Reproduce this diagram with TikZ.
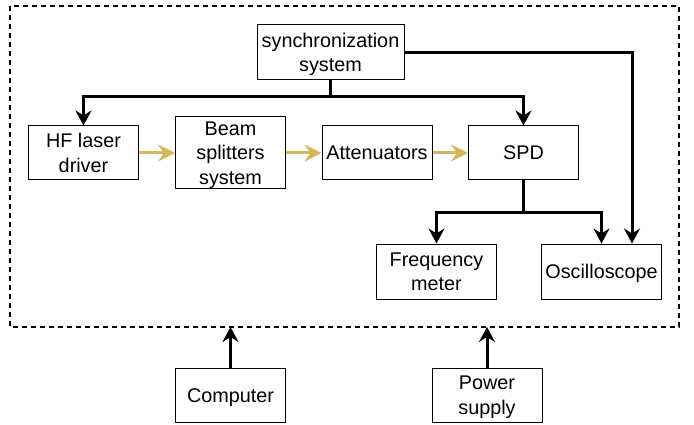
\documentclass[tikz,border=0pt]{standalone}
\usepackage{fontspec}
\setmainfont{Liberation Sans}
\usetikzlibrary{arrows.meta,calc,positioning}
\definecolor{beamgold}{HTML}{D6B656}

\begin{document}
\begin{tikzpicture}[x=1pt,y=-1pt,
every node/.style={draw,line width=1pt,align=center,inner sep=0pt,text depth=0pt,
  font=\fontsize{19.8}{24.5}\selectfont},
box/.style={minimum width=110pt,minimum height=54pt},
widebox/.style={minimum width=120pt,minimum height=55pt},
ctl/.style={line width=3pt,-{Stealth[length=15pt,width=16pt,inset=5pt]}},
beam/.style={beamgold,line width=3pt,-{Stealth[length=17pt,width=17pt,inset=6pt]}}]
\useasboundingbox (0,0) rectangle (694,425);
\draw[line width=1.5pt,dash pattern=on 5pt off 4pt] (10,6) rectangle (679,327);
% blocks inside the frame
\node[minimum width=147pt,minimum height=55pt] (sync) at (330.5,52.5) {synchronization\\system};
\node[box] (hf) at (83.5,153) {HF laser\\driver};
\node[box,minimum height=72pt] (bs) at (230.5,153) {Beam\\splitters\\system};
\node[box] (att) at (377,153) {Attenuators};
\node[box] (spd) at (523.5,153) {SPD};
\node[widebox] (fm) at (436.5,271.5) {Frequency\\meter};
\node[widebox] (osc) at (601.5,271.5) {Oscilloscope};
% blocks outside
\node[box] (pc) at (230.5,395.5) {Computer};
\node[box] (ps) at (487,395) {Power\\supply};
% junctions
\coordinate (sj) at (330.5,97);
\coordinate (pj) at (523.5,212.5);
\coordinate (pcin) at (230.5,327);
\coordinate (psin) at (487,327);
% optical path
\draw[beam] (hf) -- (bs);
\draw[beam] (bs) -- (att);
\draw[beam] (att) -- (spd);
% sync lines
\draw[line width=3pt] (sync.south) -- (sj);
\draw[ctl] (sj) -| (hf.north);
\draw[ctl] (sj) -| (spd.north);
\draw[ctl] (sync.east) -| ([xshift=30.5pt]osc.north);
% detector outputs
\draw[line width=3pt] (spd.south) -- (pj);
\draw[ctl] (pj) -| (fm.north);
\draw[ctl] (pj) -| (osc.north);
\draw[ctl] (pc.north) -- (pcin);
\draw[ctl] (ps.north) -- (psin);
\end{tikzpicture}
\end{document}
